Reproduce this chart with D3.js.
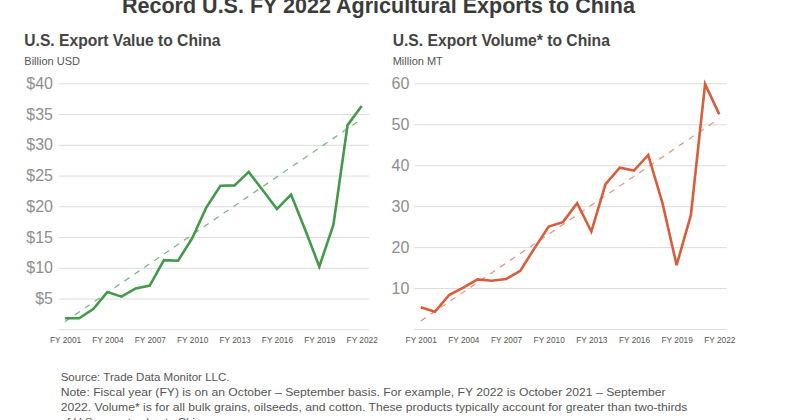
<!DOCTYPE html>
<html>
<head>
<meta charset="utf-8">
<script src="https://cdn.jsdelivr.net/npm/d3@7"></script>
<style>
  html, body { margin: 0; padding: 0; background: #fff; }
  svg { display: block; font-family: "Liberation Sans", Arial, Helvetica, sans-serif; }
</style>
</head>
<body>
<svg id="chart" width="800" height="420"></svg>
<script>
// ---- Data ----
const years = d3.range(2001, 2023);
const exportValue = [1.8, 1.8, 3.3, 6.05, 5.3, 6.65, 7.1, 11.25, 11.15, 14.8, 19.8, 23.35, 23.4, 25.6, 22.6, 19.55, 21.9, 16.2, 10.2, 17.0, 33.2, 36.3];
const exportVolume = [5.3, 4.2, 8.3, 10.1, 12.1, 11.8, 12.2, 14.2, 19.7, 25.0, 26.1, 30.7, 23.8, 35.4, 39.4, 38.7, 42.5, 30.8, 15.6, 27.8, 59.8, 52.4];
const trendValue = [1.25, 34.2];     // dashed trend: FY2001 -> FY2022
const trendVolume = [1.95, 51.4];
const xTickYears = [2001, 2004, 2007, 2010, 2013, 2016, 2019, 2022];
const valueTicks = [0, 5, 10, 15, 20, 25, 30, 35, 40];
const volumeTicks = [0, 10, 20, 30, 40, 50, 60];
const titleText = "Record U.S. FY 2022 Agricultural Exports to China";
const footerLines = [
  "Source: Trade Data Monitor LLC.",
  "Note: Fiscal year (FY) is on an October \u2013 September basis. For example, FY 2022 is October 2021 \u2013 September",
  "2022. Volume* is for all bulk grains, oilseeds, and cotton. These products typically account for greater than two-thirds",
  "of U.S. export value to China."
];

const svg = d3.select("#chart");

function fitWidth(sel, target) {
  const node = sel.node();
  const fs = parseFloat(sel.attr("font-size"));
  const w = node.getComputedTextLength();
  sel.attr("font-size", (fs * target / w).toFixed(2));
}

// Title
svg.append("text")
  .attr("x", 122).attr("y", 12.7)
  .attr("font-size", 22).attr("font-weight", "bold")
  .attr("fill", "#3b3b3b")
  .text(titleText)
  .call(fitWidth, 513);

function panel(cfg) {
  const g = svg.append("g");
  const x = d3.scaleLinear().domain([2001, 2022]).range(cfg.xData);
  const y = d3.scaleLinear().domain(cfg.yDomain).range([cfg.yBottom, cfg.yTop]);

  g.append("text")
    .attr("x", cfg.titleX).attr("y", 45.5)
    .attr("font-size", 15.5).attr("font-weight", "bold")
    .attr("fill", "#444")
    .text(cfg.title)
    .call(fitWidth, cfg.titleW);

  g.append("text")
    .attr("x", cfg.titleX).attr("y", 64.5)
    .attr("font-size", 11).attr("fill", "#555")
    .text(cfg.unit);

  // y axis with gridlines
  const yAxis = d3.axisLeft(y)
    .tickValues(cfg.ticks)
    .tickSize(-(cfg.gridX[1] - cfg.gridX[0]))
    .tickPadding(cfg.pad)
    .tickFormat(d => d === 0 ? "" : cfg.fmt(d));
  const ya = g.append("g")
    .attr("transform", `translate(${cfg.gridX[0]},0)`)
    .call(yAxis);
  ya.select(".domain").remove();
  ya.selectAll(".tick line").attr("stroke", "#dcdcdc").attr("stroke-width", 1);
  ya.selectAll(".tick text")
    .attr("font-size", 16).attr("fill", "#8e8e8e")
    .attr("font-family", "\"Liberation Sans\", Arial, sans-serif");

  // x axis labels
  const xAxis = d3.axisBottom(x)
    .tickValues(xTickYears)
    .tickSize(0)
    .tickPadding(8)
    .tickFormat(d => "FY " + d);
  const xa = g.append("g")
    .attr("transform", `translate(0,${cfg.yBottom})`)
    .call(xAxis);
  xa.select(".domain").remove();
  xa.selectAll(".tick text")
    .attr("font-size", 8.3).attr("fill", "#555")
    .attr("font-family", "\"Liberation Sans\", Arial, sans-serif");

  // trend
  g.append("line")
    .attr("x1", x(2001)).attr("y1", y(cfg.trend[0]))
    .attr("x2", x(2022)).attr("y2", y(cfg.trend[1]))
    .attr("stroke", cfg.trendColor).attr("stroke-width", 1.3)
    .attr("stroke-dasharray", "6,6");

  // data line
  const line = d3.line().x((d, i) => x(years[i])).y(d => y(d));
  g.append("path")
    .datum(cfg.values)
    .attr("d", line)
    .attr("fill", "none")
    .attr("stroke", cfg.color)
    .attr("stroke-width", 2.6)
    .attr("stroke-linejoin", "miter");
}

panel({
  title: "U.S. Export Value to China", titleX: 24.3, titleW: 196.4,
  unit: "Billion USD",
  xData: [65, 361.7], gridX: [59, 369],
  yDomain: [0, 40], yBottom: 329.3, yTop: 83.3,
  ticks: valueTicks, fmt: d => "$" + d, pad: 6,
  values: exportValue, trend: trendValue,
  color: "#44994c", trendColor: "#7fb784"
});

panel({
  title: "U.S. Export Volume* to China", titleX: 392.7, titleW: 217.3,
  unit: "Million MT",
  xData: [420.7, 719.3], gridX: [414.3, 726.7],
  yDomain: [0, 60], yBottom: 329, yTop: 83.3,
  ticks: volumeTicks, fmt: d => String(d), pad: 5,
  values: exportVolume, trend: trendVolume,
  color: "#d95c3d", trendColor: "#e6987f"
});

// Footer
const widths = [null, 605, 626.6, null];
footerLines.forEach((t, i) => {
  const tx = svg.append("text")
    .attr("x", 60.7).attr("y", 380.7 + i * 15)
    .attr("font-size", 11.5).attr("fill", "#555")
    .text(t);
  if (widths[i]) tx.attr("textLength", widths[i]).attr("lengthAdjust", "spacingAndGlyphs");
});
</script>
</body>
</html>
